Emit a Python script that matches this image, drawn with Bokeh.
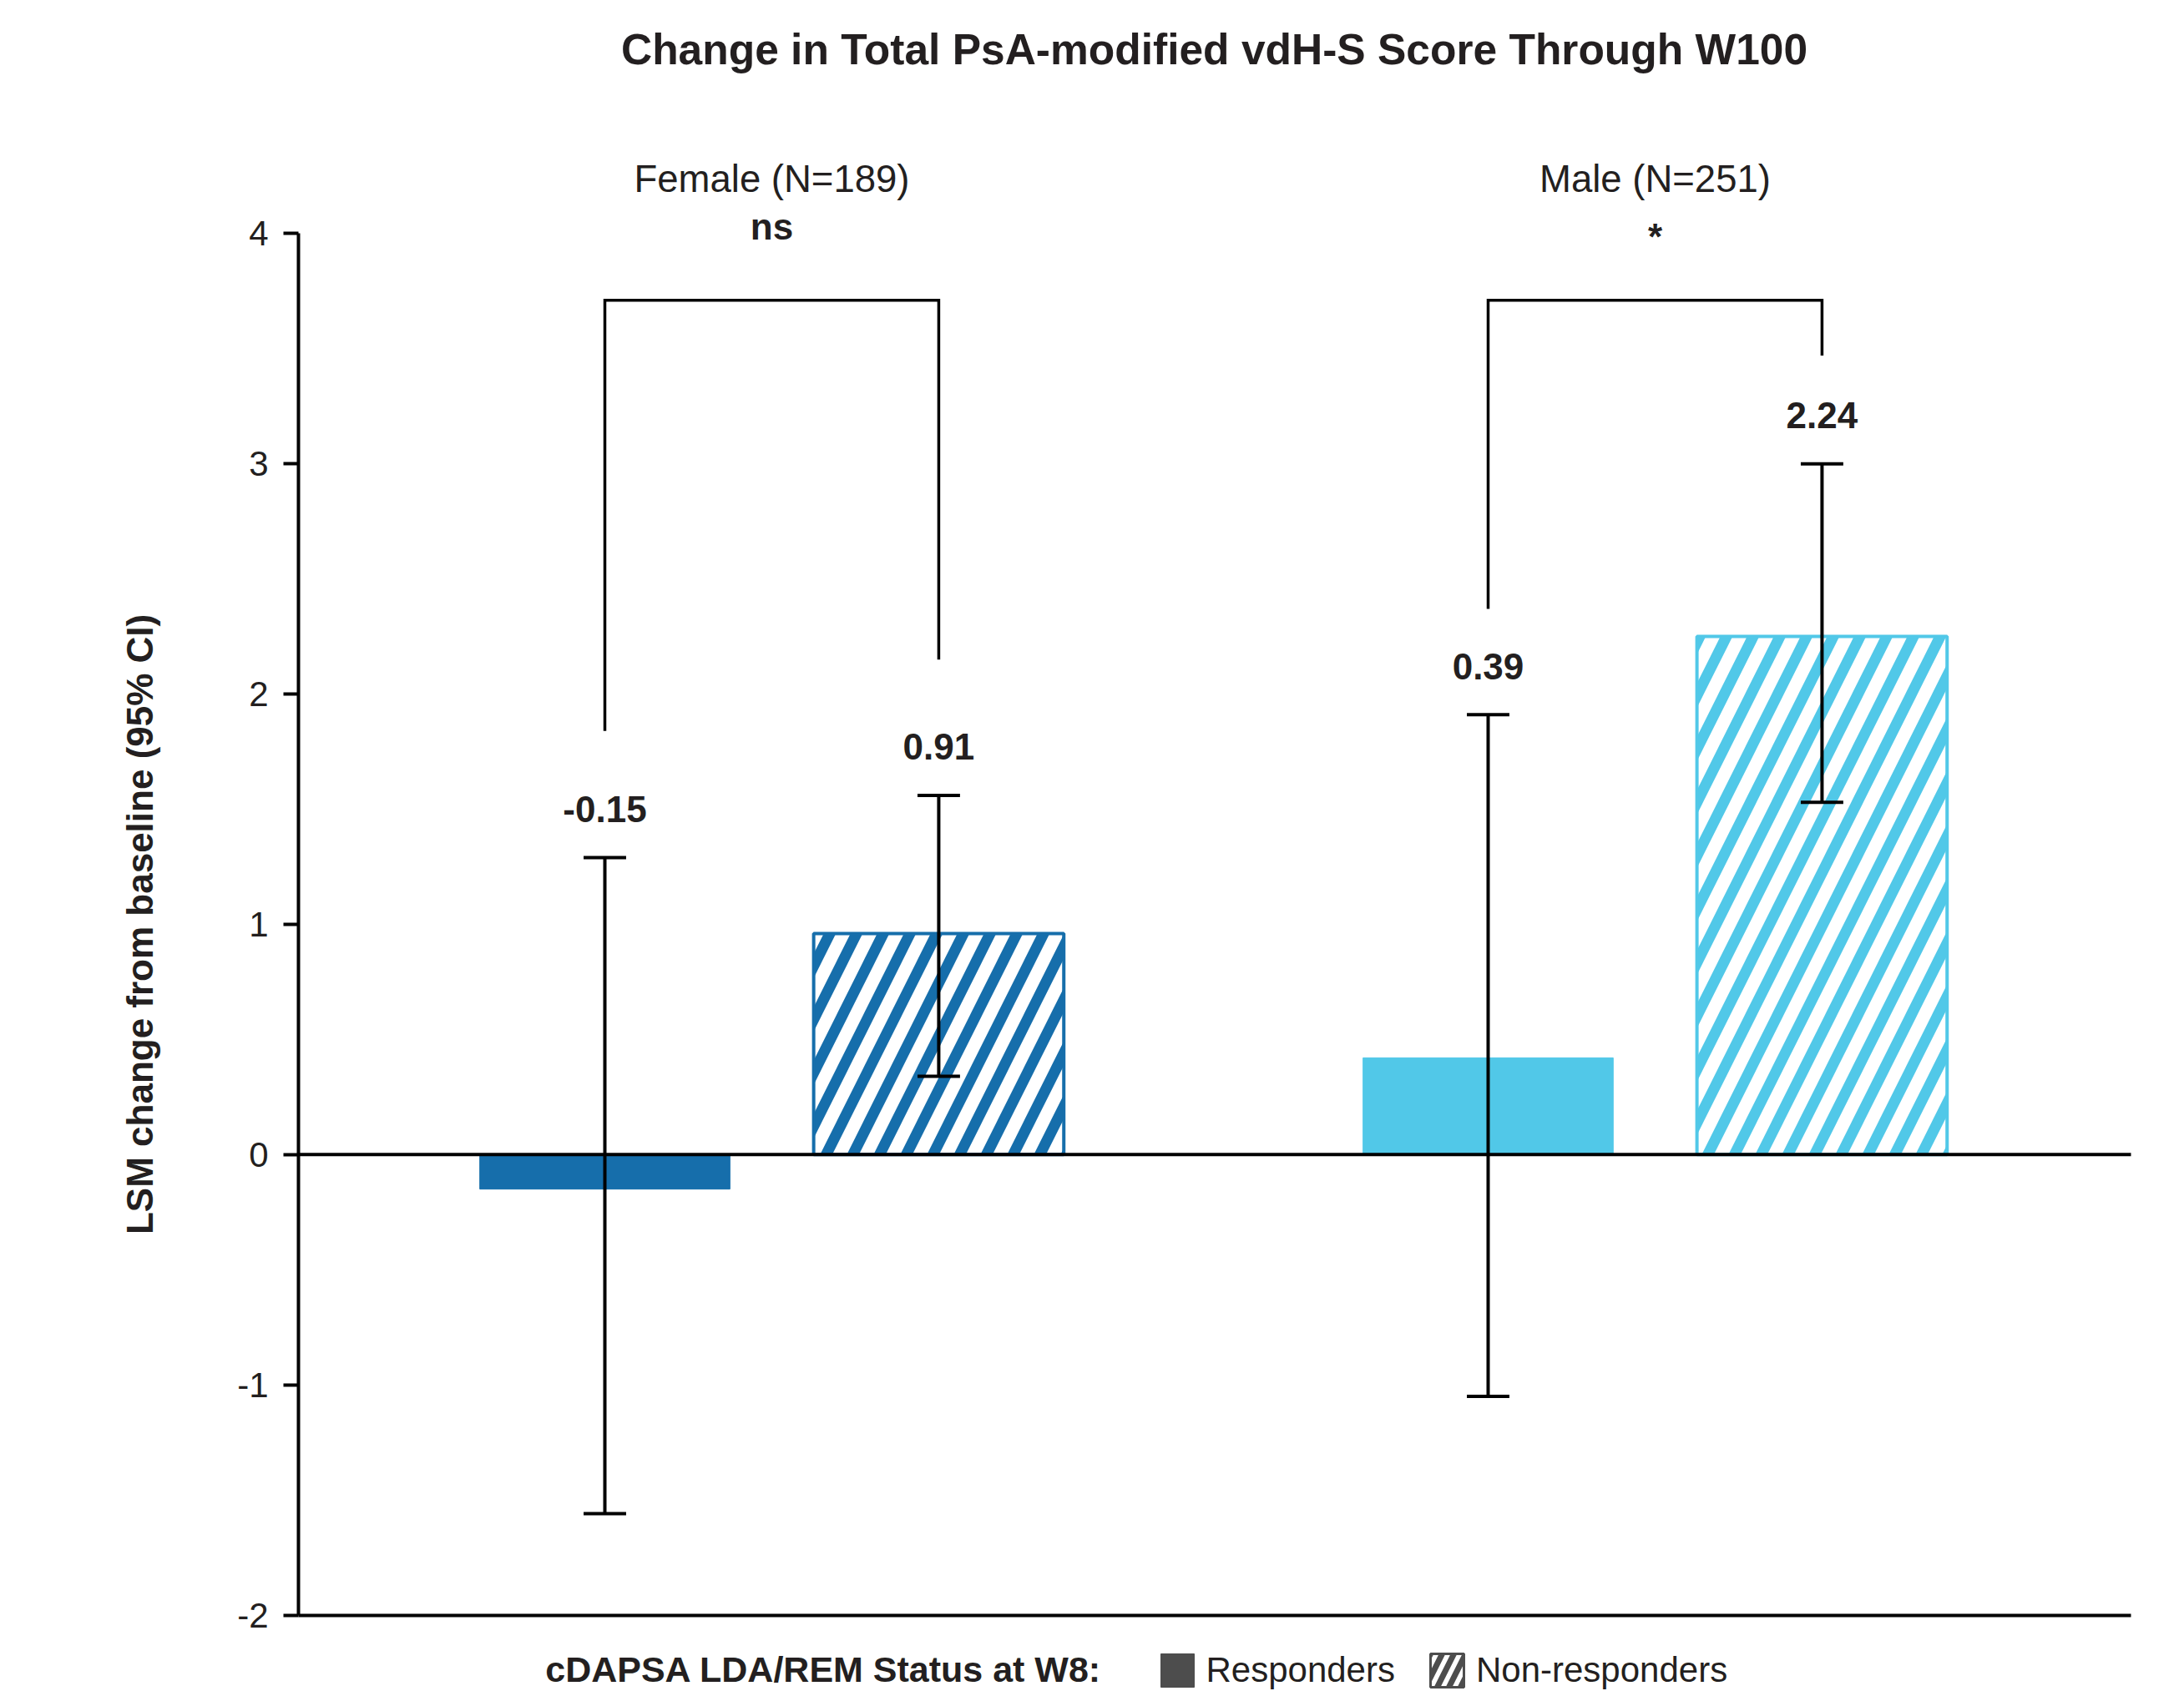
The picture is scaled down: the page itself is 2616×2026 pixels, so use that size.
import math
from bokeh.plotting import figure
from bokeh.models import (Range1d, Label, Legend, LegendItem, FixedTicker, ColumnDataSource,
                          LinearAxis)
from bokeh.embed import file_html
from bokeh.resources import INLINE

# ---------------- data ----------------
title_text = "Change in Total PsA-modified vdH-S Score Through W100"
y_label_text = "LSM change from baseline (95% CI)"
groups = ["Female (N=189)", "Male (N=251)"]
significance = ["ns", "*"]
statuses = ["Responders", "Non-responders"]
legend_title = "cDAPSA LDA/REM Status at W8:"
bar_values = [-0.15, 0.96, 0.42, 2.25]          # F-resp, F-nonresp, M-resp, M-nonresp
value_labels = ["-0.15", "0.91", "0.39", "2.24"]
ci_lower = [-1.56, 0.34, -1.05, 1.53]
ci_upper = [1.29, 1.56, 1.91, 3.00]
bracket_top = [3.71, 3.71]
bracket_left_end = [1.84, 2.37]
bracket_right_end = [2.15, 3.47]
y_ticks = [-2, -1, 0, 1, 2, 3, 4]
group_colors = ["#166EAB", "#51C8E8"]
legend_color = "#4d4d4d"

# ---------------- layout ----------------
FONT = "Liberation Sans"
TXT = "#231f20"
W, H = 2608, 2024
X_MIN, X_MAX = 0, 10
Y_MIN, Y_MAX = -2, 4
PX_X0, PX_X1 = 357.0, 2552.0      # pixel of X_MIN / X_MAX
PX_YT, PX_YB = 279.3, 1934.5      # pixel of Y_MAX / Y_MIN
sx = (PX_X1 - PX_X0) / (X_MAX - X_MIN)
sy = (PX_YB - PX_YT) / (Y_MAX - Y_MIN)


def dx(px):
    return X_MIN + (px - PX_X0) / sx


def dy(py):
    return Y_MAX + (PX_YT - py) / sy


group_centers = [2.583, 7.403]
offset = 0.911
bar_w = 1.365
cap_w = 0.232

xs, colors, hatched = [], [], []
for gi, gc in enumerate(group_centers):
    for si in range(2):
        xs.append(gc + (-offset if si == 0 else offset))
        colors.append(group_colors[gi])
        hatched.append(si == 1)

p = figure(width=W, height=H, output_backend="svg", toolbar_location=None,
           x_range=Range1d(dx(0), dx(W)), y_range=Range1d(dy(H), dy(0)),
           x_axis_type=None, y_axis_type=None,
           min_border_left=0, min_border_right=0, min_border_top=0, min_border_bottom=0)
p.outline_line_color = None
p.background_fill_color = "white"
p.border_fill_color = "white"

# axes
ya = LinearAxis(fixed_location=X_MIN, bounds=(Y_MIN, Y_MAX), ticker=FixedTicker(ticks=y_ticks),
                major_label_overrides={t: str(t) for t in y_ticks})
ya.axis_line_width = 4
ya.axis_line_color = "black"
ya.major_tick_line_width = 4
ya.major_tick_line_color = "black"
ya.major_tick_out = 18
ya.major_tick_in = 0
ya.minor_tick_line_color = None
ya.major_label_text_font = FONT
ya.major_label_text_font_size = "42px"
ya.major_label_text_color = TXT
ya.major_label_standoff = 18
p.add_layout(ya, "left")

xa = LinearAxis(fixed_location=Y_MIN, bounds=(X_MIN, X_MAX), ticker=FixedTicker(ticks=[]))
xa.axis_line_width = 4
xa.axis_line_color = "black"
xa.major_tick_line_color = None
xa.minor_tick_line_color = None
xa.major_label_text_font_size = "0px"
p.add_layout(xa, "below")

# bars
for i in range(4):
    v = bar_values[i]
    src = ColumnDataSource(dict(x=[xs[i]], top=[max(v, 0)], bottom=[min(v, 0)]))
    if hatched[i]:
        p.vbar(x="x", top="top", bottom="bottom", width=bar_w, source=src,
               fill_color="white", line_color=colors[i], line_width=4,
               hatch_pattern="/", hatch_color=colors[i], hatch_scale=64, hatch_weight=13)
    else:
        p.vbar(x="x", top="top", bottom="bottom", width=bar_w, source=src,
               fill_color=colors[i], line_color=colors[i], line_width=1)

# zero line
p.segment(x0=[X_MIN], y0=[0], x1=[X_MAX], y1=[0], line_color="black", line_width=4)

# error bars
p.segment(x0=xs, y0=ci_lower, x1=xs, y1=ci_upper, line_color="black", line_width=4)
p.segment(x0=[x - cap_w / 2 for x in xs], y0=ci_lower, x1=[x + cap_w / 2 for x in xs], y1=ci_lower,
          line_color="black", line_width=4)
p.segment(x0=[x - cap_w / 2 for x in xs], y0=ci_upper, x1=[x + cap_w / 2 for x in xs], y1=ci_upper,
          line_color="black", line_width=4)

# brackets
bx, by = [], []
for gi in range(2):
    xl, xr = xs[2 * gi], xs[2 * gi + 1]
    bx.append([xl, xl, xr, xr])
    by.append([bracket_left_end[gi], bracket_top[gi], bracket_top[gi], bracket_right_end[gi]])
p.multi_line(xs=bx, ys=by, line_color="black", line_width=3.5, line_join="miter")

# value labels
for i in range(4):
    p.add_layout(Label(x=xs[i], y=ci_upper[i] + 0.21, text=value_labels[i], text_font=FONT,
                       text_font_size="44px", text_font_style="bold", text_color=TXT,
                       text_align="center", text_baseline="middle"))

# group labels and significance
sig_base_px = [271, 283]
for gi, gc in enumerate(group_centers):
    p.add_layout(Label(x=gc, y=dy(213.5), text=groups[gi], text_font=FONT, text_font_size="45.5px",
                       text_color=TXT, text_align="center", text_baseline="middle"))
    p.add_layout(Label(x=gc, y=dy(sig_base_px[gi]), text=significance[gi], text_font=FONT,
                       text_font_size="44px", text_font_style="bold", text_color=TXT,
                       text_align="center", text_baseline="alphabetic"))

# title
p.add_layout(Label(x=dx(1454), y=dy(58), text=title_text, text_font=FONT, text_font_size="51.5px",
                   text_font_style="bold", text_color=TXT, text_align="center", text_baseline="middle"))

# y axis label
p.add_layout(Label(x=dx(167), y=(Y_MIN + Y_MAX) / 2, text=y_label_text, text_font=FONT,
                   text_font_size="44px", text_font_style="bold", text_color=TXT,
                   text_align="center", text_baseline="middle", angle=math.pi / 2))

# legend: swatch renderers are hidden in the plot, only their legend glyphs show
p.add_layout(Label(x=dx(986), y=dy(1999), text=legend_title, text_font=FONT, text_font_size="43px",
                   text_font_style="bold", text_color=TXT, text_align="center", text_baseline="middle"))
r_resp = p.vbar(x=[xs[0]], top=[bar_values[0]], width=bar_w, fill_color=legend_color,
                line_color=legend_color, line_width=1, visible=False)
r_non = p.vbar(x=[xs[1]], top=[bar_values[1]], width=bar_w, fill_color="white",
               line_color=legend_color, line_width=3, hatch_pattern="/", hatch_color=legend_color,
               hatch_scale=28, hatch_weight=7, visible=False)
legend = Legend(items=[LegendItem(label=statuses[0], renderers=[r_resp]),
                       LegendItem(label=statuses[1], renderers=[r_non])],
                orientation="horizontal", location=(1384.5, H - 2001 - 25),
                glyph_width=50, glyph_height=50, label_standoff=10, spacing=37,
                padding=0, margin=0, border_line_color=None, background_fill_alpha=0,
                inactive_fill_alpha=0,
                label_text_font=FONT, label_text_font_size="42px", label_text_color=TXT)
p.add_layout(legend)

open("out.html", "w").write(file_html(p, INLINE))
